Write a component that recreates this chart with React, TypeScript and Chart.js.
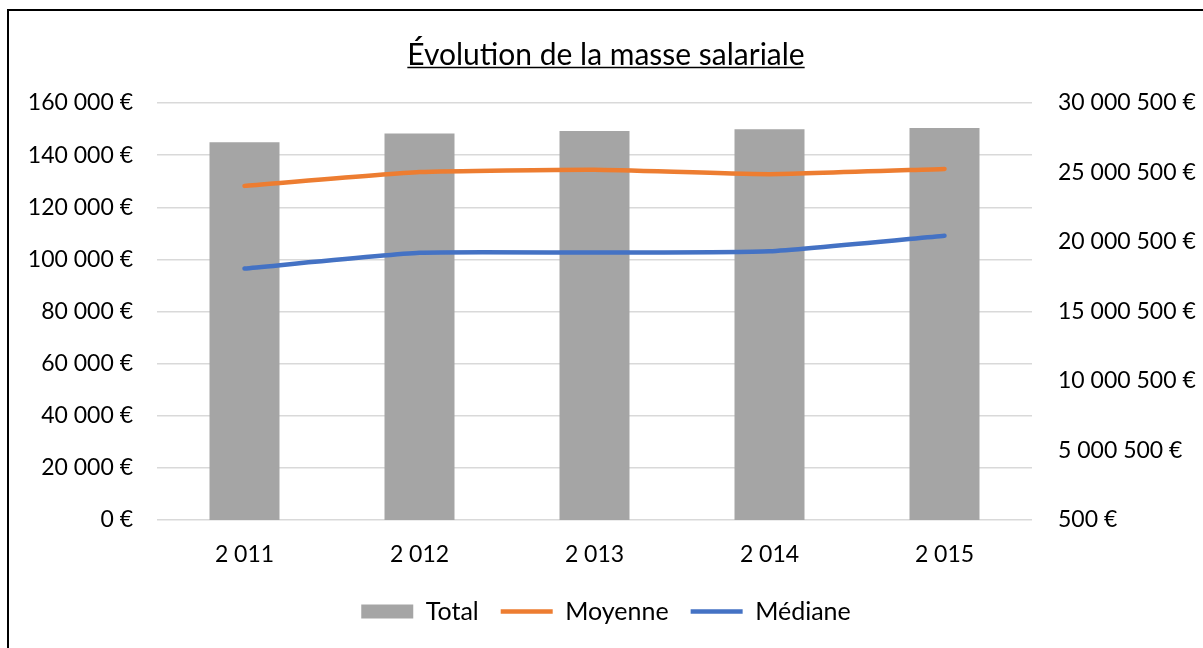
import React, { useEffect, useRef } from "react";
import { Chart, registerables } from "chart.js";

Chart.register(...registerables);

const categories = ["2 011", "2 012", "2 013", "2 014", "2 015"];
const totalValues = [27180000, 27800000, 27990000, 28110000, 28210000];
const moyenneValues = [128200, 133500, 134400, 132700, 134700];
const medianeValues = [96500, 102500, 102600, 103100, 109100];

const titleText = "Évolution de la masse salariale";
const FONT = "Lato, 'Open Sans', sans-serif";

const fmt = (n: number) =>
  Math.round(n).toString().replace(/\B(?=(\d{3})+(?!\d))/g, " ") + " €";

const underlinePlugin = {
  id: "titleUnderline",
  afterDraw(chart: any) {
    const tb = chart.titleBlock;
    if (!tb) return;
    const opts = tb.options;
    const ctx = chart.ctx;
    const size = opts.font.size;
    ctx.save();
    ctx.font = `${size}px ${FONT}`;
    const w = ctx.measureText(titleText).width;
    const cx = (tb.left + tb.right) / 2;
    const cy = tb.top + opts.padding.top + (size * 1.2) / 2;
    const y = cy + size * 0.42;
    ctx.strokeStyle = "#000";
    ctx.lineWidth = 1.5;
    ctx.beginPath();
    ctx.moveTo(cx - w / 2, y);
    ctx.lineTo(cx + w / 2, y);
    ctx.stroke();
    ctx.restore();
  },
};

export default function App() {
  const ref = useRef<HTMLCanvasElement>(null);
  useEffect(() => {
    if (!ref.current) return;
    const chart = new Chart(ref.current, {
      data: {
        labels: categories,
        datasets: [
          {
            type: "bar",
            label: "Total",
            data: totalValues,
            backgroundColor: "#a5a5a5",
            borderWidth: 0,
            yAxisID: "y1",
            barPercentage: 0.4,
            categoryPercentage: 1,
            pointStyle: "rect",
            order: 2,
          },
          {
            type: "line",
            label: "Moyenne",
            data: moyenneValues,
            borderColor: "#ed7d31",
            backgroundColor: "#ed7d31",
            borderWidth: 4.5,
            borderCapStyle: "round",
            pointRadius: 0,
            pointStyle: "line",
            tension: 0.15,
            yAxisID: "y",
            order: 1,
          },
          {
            type: "line",
            label: "Médiane",
            data: medianeValues,
            borderColor: "#4472c4",
            backgroundColor: "#4472c4",
            borderWidth: 4.5,
            borderCapStyle: "round",
            pointRadius: 0,
            pointStyle: "line",
            tension: 0.15,
            yAxisID: "y",
            order: 0,
          },
        ],
      } as any,
      options: {
        animation: false,
        responsive: false,
        maintainAspectRatio: false,
        layout: { padding: { top: 0, left: 0, right: 0, bottom: 14 } },
        plugins: {
          tooltip: { enabled: false },
          title: {
            display: true,
            text: titleText,
            color: "#000",
            font: { family: FONT, size: 30, weight: "normal" as any },
            padding: { top: 26, bottom: 30 },
          },
          legend: {
            position: "bottom",
            labels: {
              usePointStyle: true,
              pointStyleWidth: 52,
              boxHeight: 14,
              padding: 22,
              color: "#000",
              font: { family: FONT, size: 25 },
              sort: (a: any, b: any) => a.datasetIndex - b.datasetIndex,
            },
          },
        },
        scales: {
          x: {
            grid: { display: false, drawTicks: false },
            border: { display: false },
            ticks: {
              color: "#000",
              padding: 21,
              font: { family: FONT, size: 23 },
            },
            afterFit(s: any) {
              s.height = 57;
            },
          },
          y: {
            position: "left",
            min: 0,
            max: 160000,
            ticks: {
              stepSize: 20000,
              color: "#000",
              padding: 24,
              font: { family: FONT, size: 23 },
              callback: (v: any) => fmt(Number(v)),
            },
            grid: { color: "#d9d9d9", lineWidth: 1.5, drawTicks: false },
            border: { display: false },
            afterFit(s: any) {
              s.width = 148;
            },
          },
          y1: {
            position: "right",
            min: 500,
            max: 30000500,
            ticks: {
              stepSize: 5000000,
              color: "#000",
              padding: 26,
              font: { family: FONT, size: 23 },
              callback: (v: any) => fmt(Number(v)),
            },
            grid: { display: false, drawTicks: false },
            border: { display: false },
            afterFit(s: any) {
              s.width = 171;
            },
          },
        },
      } as any,
      plugins: [underlinePlugin],
    });
    return () => chart.destroy();
  }, []);

  return (
    <div
      style={{
        position: "fixed",
        left: 7,
        top: 9,
        width: 1196,
        height: 639,
        borderLeft: "2px solid #000",
        borderTop: "2px solid #000",
        background: "#fff",
      }}
    >
      <canvas ref={ref} width={1194} height={637} style={{ display: "block" }} />
    </div>
  );
}
